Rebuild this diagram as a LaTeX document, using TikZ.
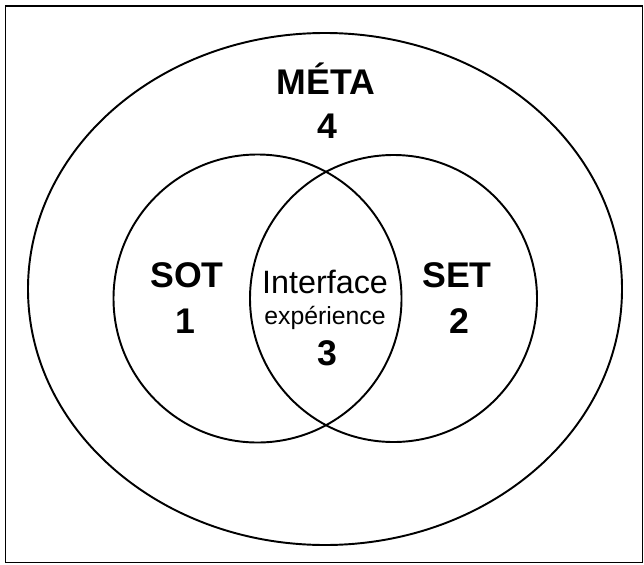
\documentclass[tikz,border=0pt]{standalone}
\usepackage{fontspec}
\setmainfont{Liberation Sans}

\tikzset{
    zone/.style={line width=1.1pt,black},
    bigtxt/.style={font=\fontsize{20.3}{22}\selectfont\bfseries,inner sep=0pt,anchor=base},
    midtxt/.style={font=\fontsize{18.4}{20}\selectfont,inner sep=0pt,anchor=base},
    smalltxt/.style={font=\fontsize{14.1}{16}\selectfont,inner sep=0pt,anchor=base}
}

\begin{document}
\begin{tikzpicture}[x=0.02cm,y=-0.02cm]
    \useasboundingbox (0,0) rectangle (644,564);
    \draw[line width=0.9pt,black] (5.5,6) rectangle (642.5,562.5);
    % outer zone and the two circles
    \draw[zone] (325,289) ellipse [x radius=297,y radius=256];
    \draw[zone] (257.5,298.5) circle (144);
    \draw[zone] (393.5,298.5) circle (143.5);
    % labels
    \node[bigtxt] (meta) at (326,95) {MÉTA};
    \node[bigtxt] (n4) at (327,138) {4};
    \node[bigtxt] (sot) at (187,287) {SOT};
    \node[bigtxt] (n1) at (185,333) {1};
    \node[bigtxt] (set) at (457,287) {SET};
    \node[bigtxt] (n2) at (459,333) {2};
    \node[midtxt] (inter) at (325,293) {Interface};
    \node[smalltxt] (exp) at (325,324) {expérience};
    \node[bigtxt] (n3) at (327,365) {3};
\end{tikzpicture}
\end{document}
